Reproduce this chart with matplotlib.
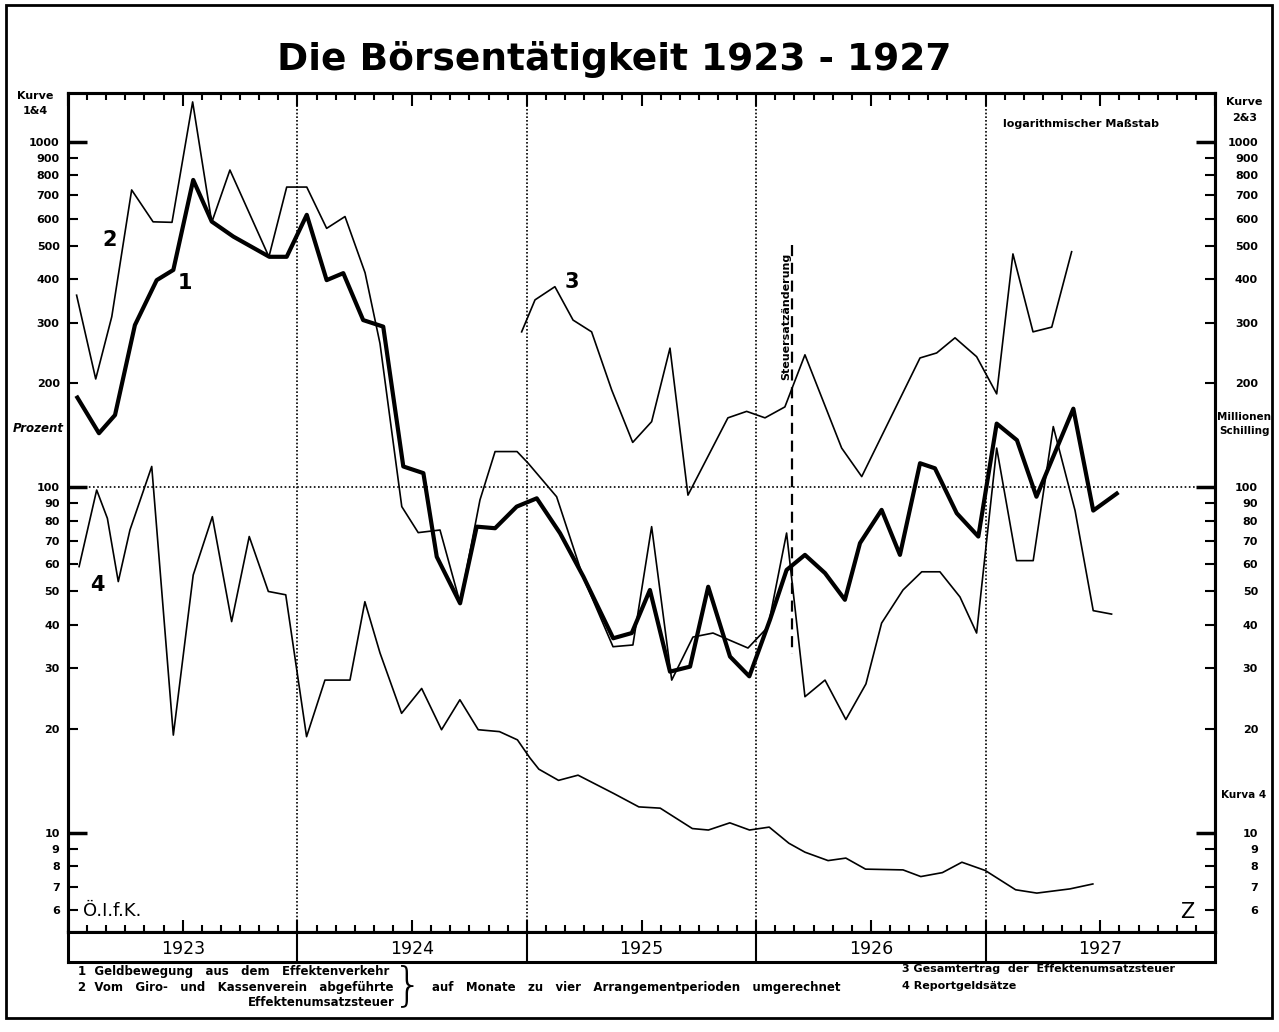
import matplotlib.pyplot as plt
from matplotlib.ticker import FixedLocator
from matplotlib.patches import Rectangle

# x = months counted from 1 Jan 1923 (12 = 1924, ... 60 = end of 1927)
curve1_x = [0.49, 1.62, 2.46, 3.50, 4.64, 5.51, 6.55, 7.52, 8.65, 10.53, 11.44,
            12.49, 13.53, 14.40, 15.44, 16.49, 17.54, 18.59, 19.29, 20.51, 21.38,
            22.34, 23.47, 24.52, 25.74, 26.96, 28.52, 29.49, 30.44, 31.49, 32.54,
            33.49, 34.63, 35.64, 36.72, 37.59, 38.55, 39.60, 40.64, 41.43, 42.56,
            43.52, 44.57, 45.35, 46.49, 47.62, 48.58, 49.64, 50.66, 52.59, 53.63,
            54.86]
curve1_y = [182, 143.5, 162, 295, 398, 426, 776, 588, 532, 465, 465,
            615, 398, 417, 305, 292, 115, 110, 63, 46.2, 77,
            76.2, 88, 93, 73.7, 55.2, 36.6, 37.9, 50.5, 29.3, 30.3,
            51.6, 32.4, 28.4, 41.4, 57.7, 63.8, 56.5, 47.3, 69, 86.1,
            63.8, 117.5, 113.6, 84.2, 72.1, 153, 137, 94, 169, 85.7,
            96]

curve2_x = [0.45, 1.45, 2.29, 3.33, 4.45, 5.44, 6.52, 7.52, 8.47, 10.51, 11.44,
            12.49, 13.53, 14.49, 15.54, 16.32, 17.46, 18.32, 19.46, 20.51, 21.55,
            22.34, 23.49, 24.06, 25.56, 26.94, 28.51, 29.55, 30.53, 31.58, 32.69,
            33.74, 35.57, 36.62, 37.59, 38.55, 39.60, 40.69, 41.74, 42.56, 43.68,
            44.66, 45.61, 46.66, 47.53, 48.58, 49.62, 50.49, 51.54, 52.68, 53.63,
            54.59]
curve2_y = [360, 206, 312, 726, 587, 585, 1305, 585, 829, 465, 740,
            740, 562, 608, 418, 261, 88, 74, 75.3, 46.3, 92,
            127, 127, 117.7, 94, 55.1, 34.6, 35, 77, 27.7, 36.9,
            37.9, 34.3, 39.5, 73.8, 24.8, 27.7, 21.3, 27, 40.5, 50.5,
            57, 57, 48.2, 37.9, 130, 61.4, 61.4, 150, 85.7, 44,
            43]

curve3_x = [23.73, 24.43, 25.47, 26.42, 27.39, 28.44, 29.54, 30.53, 31.49, 32.43,
            34.52, 35.50, 36.46, 37.50, 38.55, 40.47, 41.52, 44.57, 45.44, 46.40,
            47.53, 48.58, 49.43, 50.48, 51.46, 52.50]
curve3_y = [282, 349, 381, 305, 282, 191.5, 135, 155, 253, 95,
            159, 166, 159, 171, 242, 130, 107.5, 237, 245, 271,
            239, 186.5, 474, 282, 291, 481]

curve4_x = [0.58, 1.50, 2.06, 2.63, 3.24, 4.38, 5.51, 6.55, 7.55, 8.56, 9.48,
            10.48, 11.39, 12.48, 13.44, 14.75, 15.53, 16.32, 17.45, 18.50, 19.54,
            20.50, 21.46, 22.57, 23.51, 24.16, 24.63, 25.66, 26.68, 28.56, 29.86,
            30.98, 32.66, 33.50, 34.62, 35.65, 36.68, 37.71, 38.55, 39.76, 40.69,
            41.72, 43.68, 44.61, 45.74, 46.76, 47.98, 49.57, 50.68, 52.41, 53.61]
curve4_y = [59, 98.3, 81.4, 53.4, 75.3, 115, 19.2, 55.8, 82.3, 40.9, 72.1,
            50, 48.9, 19.0, 27.7, 27.7, 46.7, 33.2, 22.2, 26.2, 19.9,
            24.3, 19.9, 19.65, 18.6, 16.5, 15.3, 14.2, 14.7, 13.0, 11.9,
            11.8, 10.3, 10.2, 10.7, 10.2, 10.4, 9.34, 8.8, 8.32, 8.46,
            7.86, 7.82, 7.48, 7.68, 8.23, 7.79, 6.85, 6.7, 6.89, 7.12]

years = ['1923', '1924', '1925', '1926', '1927']
tax_change_month = 37.88
tax_change_span = [503, 33]

decade_ticks = [10, 100, 1000]
other_ticks = [6, 7, 8, 9, 20, 30, 40, 50, 60, 70, 80, 90,
               200, 300, 400, 500, 600, 700, 800, 900]

W, H = 1279, 1032


def fx(px):
    return px / W


def fy(py):
    return 1 - py / H


fig = plt.figure(figsize=(W / 100, H / 100), dpi=100)
bold = dict(fontweight='bold', color='black')

ax = fig.add_axes([fx(68), fy(932), fx(1215) - fx(68), fy(93) - fy(932)])
ax.set_yscale('log')
ax.set_xlim(0, 60)
ax.set_ylim(5.17, 1385)

ax.plot(curve2_x, curve2_y, color='black', lw=1.2)
ax.plot(curve3_x, curve3_y, color='black', lw=1.2)
ax.plot(curve4_x, curve4_y, color='black', lw=1.2)
ax.plot(curve1_x, curve1_y, color='black', lw=3.0, solid_joinstyle='round')

# reference lines
ax.axhline(100, color='black', lw=1.2, ls=(0, (1, 1.5)))
for b in range(12, 60, 12):
    ax.axvline(b, color='black', lw=1.2, ls=(0, (1, 1.2)))
ax.plot([tax_change_month] * 2, tax_change_span, color='black', lw=1.6, ls=(0, (5, 3)))

# month ticks on top and bottom
ax.xaxis.set_major_locator(FixedLocator(range(0, 61, 6)))
ax.xaxis.set_minor_locator(FixedLocator(range(0, 61)))
ax.tick_params(axis='x', which='both', direction='in', top=True, bottom=True,
               labelbottom=False, width=1.5)
ax.tick_params(axis='x', which='major', length=9)
ax.tick_params(axis='x', which='minor', length=5)


def setup_log_ticks(a, side):
    a.set_yticks(decade_ticks, [str(v) for v in decade_ticks])
    a.set_yticks(other_ticks, [str(v) for v in other_ticks], minor=True)
    pad = 6 if side == 'left' else 31
    a.tick_params(axis='y', which='major', direction='in', length=14, width=2.5,
                  labelsize=8, pad=pad)
    a.tick_params(axis='y', which='minor', direction='in', length=7, width=1.5,
                  labelsize=8, pad=pad)
    for lab in a.get_yticklabels() + a.get_yticklabels(minor=True):
        lab.set_fontweight('bold')
        if side == 'right':
            lab.set_horizontalalignment('right')


setup_log_ticks(ax, 'left')
ax2 = ax.twinx()
ax2.set_yscale('log')
ax2.set_ylim(ax.get_ylim())
setup_log_ticks(ax2, 'right')

for a in (ax, ax2):
    for s in a.spines.values():
        s.set_linewidth(2.2)

# year band
bax = fig.add_axes([fx(68), fy(962), fx(1215) - fx(68), fy(932) - fy(962)])
bax.set_xlim(0, 60)
bax.set_ylim(0, 1)
bax.set_xticks([])
bax.set_yticks([])
for s in bax.spines.values():
    s.set_linewidth(2.2)
for i, yr in enumerate(years):
    if i > 0:
        bax.axvline(12 * i, color='black', lw=1.5)
    bax.text(12 * i + 6, 0.45, yr, ha='center', va='center', fontsize=12.5)

# outer frame
fig.add_artist(Rectangle((fx(6), fy(1018)), fx(1272) - fx(6), fy(5) - fy(1018),
                         transform=fig.transFigure, fill=False, lw=2, color='black'))

fig.text(fx(614), fy(60), 'Die Börsentätigkeit 1923 - 1927', ha='center', va='center',
         fontsize=27, **bold)

fig.text(fx(35), fy(96), 'Kurve', ha='center', va='center', fontsize=8, **bold)
fig.text(fx(35), fy(111), '1&4', ha='center', va='center', fontsize=8, **bold)
fig.text(fx(38), fy(428), 'Prozent', ha='center', va='center', fontsize=8.5,
         style='italic', **bold)
fig.text(fx(1244), fy(102), 'Kurve', ha='center', va='center', fontsize=8, **bold)
fig.text(fx(1245), fy(118), '2&3', ha='center', va='center', fontsize=8, **bold)
fig.text(fx(1244), fy(417), 'Millionen', ha='center', va='center', fontsize=7.5, **bold)
fig.text(fx(1244), fy(431), 'Schilling', ha='center', va='center', fontsize=7.5, **bold)
fig.text(fx(1244), fy(795), 'Kurva 4', ha='center', va='center', fontsize=7.5, **bold)
fig.text(fx(1081), fy(124), 'logarithmischer Maßstab', ha='center', va='center',
         fontsize=8, **bold)
fig.text(fx(112), fy(911), 'Ö.I.f.K.', ha='center', va='center', fontsize=13)
fig.text(fx(1187), fy(912), 'Z', ha='center', va='center', fontsize=15)
fig.text(fx(786), fy(316), 'Steuersatzänderung', ha='center', va='center',
         rotation=90, fontsize=8, **bold)

for label, px, py in [('1', 185, 283), ('2', 110, 240), ('3', 572, 282), ('4', 97, 585)]:
    fig.text(fx(px), fy(py), label, ha='center', va='center', fontsize=15, **bold)

# legend text
fig.text(fx(78), fy(972), '1  Geldbewegung   aus   dem   Effektenverkehr',
         ha='left', va='center', fontsize=8.5, **bold)
fig.text(fx(78), fy(987), '2  Vom   Giro-   und   Kassenverein   abgeführte',
         ha='left', va='center', fontsize=8.5, **bold)
fig.text(fx(395), fy(1003), 'Effektenumsatzsteuer', ha='right', va='center',
         fontsize=8.5, **bold)
fig.text(fx(408), fy(986), '}', ha='center', va='center', fontsize=34, fontweight='light')
fig.text(fx(432), fy(988), 'auf   Monate   zu   vier   Arrangementperioden   umgerechnet',
         ha='left', va='center', fontsize=8.5, **bold)
fig.text(fx(902), fy(969), '3 Gesamtertrag  der  Effektenumsatzsteuer',
         ha='left', va='center', fontsize=8, **bold)
fig.text(fx(902), fy(986), '4 Reportgeldsätze', ha='left', va='center', fontsize=8, **bold)

fig.savefig('out.png', dpi=100)
